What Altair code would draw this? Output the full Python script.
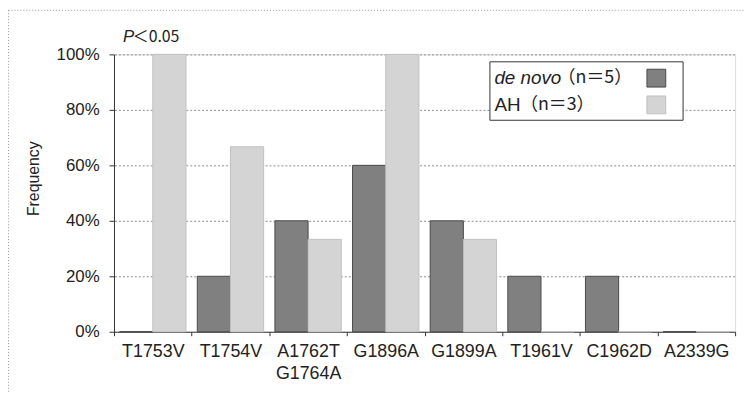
import altair as alt
import pandas as pd

categories = ["T1753V", "T1754V", "A1762T\nG1764A", "G1896A", "G1899A", "T1961V", "C1962D", "A2339G"]
series = ["de novo", "AH"]
de_novo = [0, 20, 40, 60, 40, 20, 20, 0]
ah = [100, 66.7, 33.3, 100, 33.3, 0, 0, 0]
bar_colors = ["#808080", "#d4d4d4"]
bar_strokes = ["#4a4a4a", "#c0c0c0"]
y_ticks = [0, 0.2, 0.4, 0.6, 0.8, 1.0]

rows = []
for c, a, b in zip(categories, de_novo, ah):
    rows.append({"cat": c, "series": series[0], "v": a / 100})
    rows.append({"cat": c, "series": series[1], "v": b / 100})
df = pd.DataFrame(rows)
grid_df = pd.DataFrame({"v": y_ticks[1:]})

W, H = 627, 280
FONT = "Liberation Sans"
CJK = "Noto Sans CJK JP"
one = pd.DataFrame({"k": [0]})

y_scale = alt.Scale(domain=[0, 1], nice=False)
y_axis = alt.Axis(title="Frequency", values=y_ticks, format=".0%",
                  labelFontSize=17, labelFont=FONT, labelColor="#222",
                  labelPadding=10, tickSize=5, tickColor="#333",
                  domainColor="#333", grid=False,
                  titleFont=FONT, titleFontSize=16,
                  titleFontWeight="normal", titleColor="#222",
                  titleX=-73, titleY=125)

frame = alt.Chart(one).mark_rect(fill="white", fillOpacity=0, stroke="#999",
                                 strokeDash=[1, 2], strokeWidth=1).encode(
    x=alt.value(-106.5), x2=alt.value(W + 60), y=alt.value(-44.5), y2=alt.value(H + 120))

grid = alt.Chart(grid_df).mark_rule(color="#8c8c8c", strokeWidth=1, strokeDash=[2, 2],
                                    yOffset=0.5).encode(
    y=alt.Y("v:Q", scale=y_scale, axis=y_axis))

bars = alt.Chart(df).mark_bar(strokeWidth=1).encode(
    x=alt.X("cat:N", sort=categories,
            scale=alt.Scale(paddingInner=0, paddingOuter=0),
            axis=alt.Axis(title=None, tickBand="extent", labelAngle=0,
                          labelExpr="split(datum.label, '\\n')",
                          labelFontSize=18, labelFont=FONT, labelColor="#222",
                          labelPadding=7, labelLineHeight=22,
                          tickSize=4, tickColor="#333", domainColor="#333",
                          grid=False)),
    xOffset=alt.XOffset("series:N", sort=series,
                        scale=alt.Scale(paddingInner=0, paddingOuter=0.17)),
    y=alt.Y("v:Q", scale=y_scale, axis=y_axis),
    color=alt.Color("series:N", sort=series,
                    scale=alt.Scale(domain=series, range=bar_colors), legend=None),
    stroke=alt.Stroke("series:N", sort=series,
                      scale=alt.Scale(domain=series, range=bar_strokes), legend=None),
)

p_italic = alt.Chart(one).mark_text(text="P", font=FONT, fontSize=17, fontStyle="italic",
                                    align="left", baseline="middle", color="#222").encode(
    x=alt.value(9), y=alt.value(-18))
p_rest = alt.Chart(one).mark_text(text="＜0.05", font=CJK, fontSize=16,
                                  align="left", baseline="middle", color="#222").encode(
    x=alt.value(19), y=alt.value(-18))

legend_box = alt.Chart(one).mark_rect(fill="white", stroke="#333", strokeWidth=1).encode(
    x=alt.value(379.5), x2=alt.value(574.5), y=alt.value(7.5), y2=alt.value(66.5))
sw1 = alt.Chart(one).mark_rect(fill=bar_colors[0], stroke=bar_strokes[0]).encode(
    x=alt.value(538), x2=alt.value(557), y=alt.value(15), y2=alt.value(33))
sw2 = alt.Chart(one).mark_rect(fill=bar_colors[1], stroke=bar_strokes[1]).encode(
    x=alt.value(538), x2=alt.value(557), y=alt.value(42), y2=alt.value(60))
t1a = alt.Chart(one).mark_text(text="de novo", font=FONT, fontSize=19, fontStyle="italic",
                               align="left", baseline="middle", color="#222").encode(
    x=alt.value(384), y=alt.value(24))
t1b = alt.Chart(one).mark_text(text="（n＝5）", font=CJK, fontSize=18,
                               align="left", baseline="middle", color="#222").encode(
    x=alt.value(448), y=alt.value(24))
t2a = alt.Chart(one).mark_text(text="AH", font=FONT, fontSize=19,
                               align="left", baseline="middle", color="#222").encode(
    x=alt.value(384), y=alt.value(51))
t2b = alt.Chart(one).mark_text(text="（n＝3）", font=CJK, fontSize=18,
                               align="left", baseline="middle", color="#222").encode(
    x=alt.value(410), y=alt.value(51))

chart = alt.layer(frame, grid, bars, p_italic, p_rest, legend_box, sw1, sw2,
                  t1a, t1b, t2a, t2b).properties(
    width=W, height=H,
    autosize=alt.AutoSizeParams(type="none"),
    padding={"left": 107, "top": 45, "right": 10, "bottom": 60},
).configure_view(stroke=None).configure(background="white")

chart.save("out.html", embed_options={"renderer": "svg", "actions": False})
